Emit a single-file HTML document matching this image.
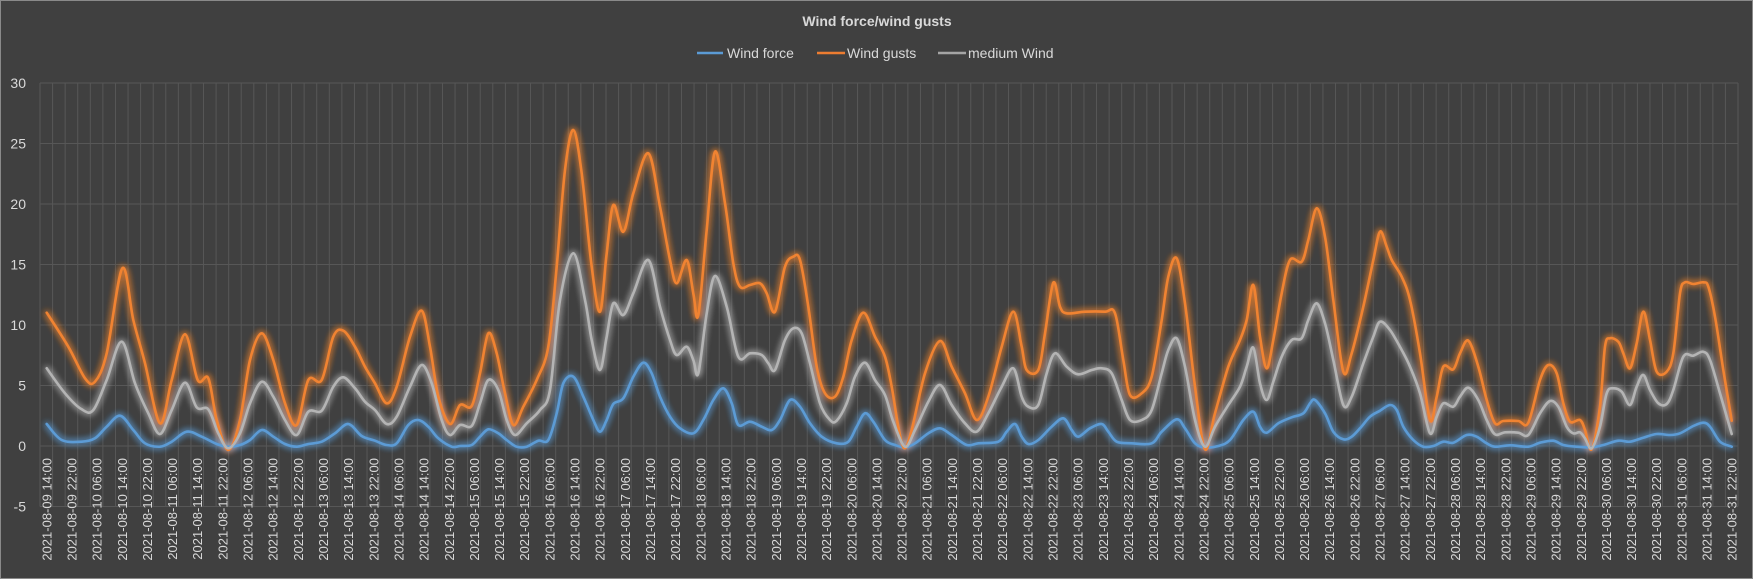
<!DOCTYPE html>
<html><head><meta charset="utf-8">
<style>
html,body{margin:0;padding:0;background:#404040;}
svg{display:block;}
text{font-family:"Liberation Sans",sans-serif;fill:#d9d9d9;}
</style></head>
<body>
<svg id="c" width="1753" height="579" xmlns="http://www.w3.org/2000/svg">
<defs>
<filter id="glow" x="-5%" y="-20%" width="110%" height="140%">
<feGaussianBlur in="SourceGraphic" stdDeviation="3.5" result="b"/>
<feMerge><feMergeNode in="b"/><feMergeNode in="b"/><feMergeNode in="SourceGraphic"/></feMerge>
</filter>
</defs>
<rect x="0.5" y="0.5" width="1752" height="578" fill="#404040" stroke="#8a8a8a"/>
<g id="grid"></g>
<g id="ylab"></g>
<g id="xlab"></g>
<text x="877" y="26" text-anchor="middle" font-size="14" font-weight="bold">Wind force/wind gusts</text>
<line x1="697" y1="53" x2="723" y2="53" stroke="#5B9BD5" stroke-width="2.5"/>
<text x="727" y="58" font-size="14">Wind force</text>
<line x1="817" y1="53" x2="845" y2="53" stroke="#ED7D31" stroke-width="2.5"/>
<text x="847" y="58" font-size="14">Wind gusts</text>
<line x1="938" y1="53" x2="966" y2="53" stroke="#A5A5A5" stroke-width="2.5"/>
<text x="968" y="58" font-size="14">medium Wind</text>
<g id="series" filter="url(#glow)"></g>
</svg>
<script>
var NS="http://www.w3.org/2000/svg";
function el(t,a,p){var e=document.createElementNS(NS,t);for(var k in a)e.setAttribute(k,a[k]);p.appendChild(e);return e;}
var L=40,R=1738,cw=(R-L)/135;
function Y(v){return 446-12.1*v;}
var g=document.getElementById('grid');
for(var k=0;k<=135;k++){var x=L+cw*k;el('line',{x1:x,y1:Y(30),x2:x,y2:Y(-5),stroke:'#575757','stroke-width':1},g);}
for(var v=-5;v<=30;v+=5){el('line',{x1:L,y1:Y(v),x2:R,y2:Y(v),stroke:'#575757','stroke-width':1},g);}
var yl=document.getElementById('ylab');
for(var v=-5;v<=30;v+=5){var t=el('text',{x:26,y:Y(v)+5,'text-anchor':'end','font-size':14},yl);t.textContent=v;}
var xl=document.getElementById('xlab');
var start=Date.UTC(2021,7,9,14);
function p2(n){return (n<10?'0':'')+n;}
for(var i=0;i<68;i++){var d=new Date(start+i*8*3600000);
var s=d.getUTCFullYear()+'-'+p2(d.getUTCMonth()+1)+'-'+p2(d.getUTCDate())+' '+p2(d.getUTCHours())+':00';
var x=L+cw*(2*i+0.5)+5;
var t=el('text',{x:0,y:0,'text-anchor':'end','font-size':13,transform:'translate('+x+',458) rotate(-90)'},xl);t.textContent=s;}
var segs=[35,460,885,1310];
var data={
o:[
[[35,578],[100,680],[150,775],[180,785],[215,700],[262,445],[295,600],[330,730],[375,910],[410,780],[450,643],[488,780],[520,775],[545,900],[580,990],[615,900],[645,720],[680,640],[715,720],[750,850],[785,915],[820,780],[860,780],[895,650],[925,632],[960,680],[990,740],[1020,790],[1055,850],[1085,800],[1125,650],[1160,572],[1185,680],[1210,830],[1245,912],[1280,852]],
[[0,855],[35,858],[60,760],[85,640],[110,700],[135,820],[160,915],[190,860],[230,780],[265,680],[290,440],[315,150],[340,30],[365,160],[395,440],[420,575],[440,400],[460,255],[490,335],[520,220],[565,100],[600,260],[630,420],[650,490],[680,420],[700,520],[715,585],[740,330],[765,95],[795,250],[820,430],[840,500],[870,495],[900,490],[920,520],[945,575],[975,440],[1000,410],[1020,420],[1045,560],[1070,740],[1095,820],[1125,830],[1150,770],[1175,660],[1210,578],[1245,650],[1275,710],[1295,820]],
[[0,700],[20,800],[40,920],[58,985],[80,930],[120,760],[165,663],[200,740],[240,820],[275,900],[310,830],[350,680],[385,575],[410,680],[425,750],[460,750],[480,640],[505,488],[525,560],[545,580],[600,575],[660,575],[690,580],[715,720],[735,825],[770,820],[800,770],[830,600],[850,470],[875,415],[900,550],[930,800],[960,988],[990,880],[1030,740],[1065,660],[1085,600],[1105,495],[1125,650],[1145,745],[1165,660],[1190,520],[1215,420],[1250,425],[1270,360],[1295,265]],
[[20,260],[45,350],[70,540],[100,755],[125,700],[160,560],[190,420],[210,335],[230,380],[245,420],[275,470],[300,540],[330,700],[360,900],[380,830],[400,740],[430,748],[450,700],[475,662],[505,740],[530,840],[555,910],[580,903],[625,903],[655,908],[690,780],[715,735],[740,760],[760,850],[780,905],[810,900],[825,930],[845,988],[870,860],[885,680],[900,655],[925,665],[940,700],[960,745],[980,670],[1000,575],[1020,660],[1040,755],[1070,755],[1090,700],[1110,520],[1125,487],[1150,492],[1180,487],[1195,500],[1215,590],[1240,750],[1265,902]]],
g:[
[[35,745],[90,820],[140,868],[175,870],[215,780],[260,665],[300,790],[340,880],[375,942],[410,870],[450,788],[485,862],[520,868],[550,940],[580,985],[615,940],[645,850],[680,785],[715,830],[750,900],[785,945],[820,875],[860,872],[895,800],[925,772],[960,805],[990,845],[1020,870],[1055,912],[1085,890],[1125,800],[1160,735],[1190,790],[1220,900],[1245,945],[1280,912]],
[[0,915],[35,918],[60,850],[85,780],[115,810],[140,900],[165,945],[200,910],[240,870],[270,810],[300,540],[340,400],[375,540],[395,660],[420,750],[440,650],[460,550],[490,585],[520,520],[565,420],[600,560],[630,660],[650,705],[680,680],[700,720],[715,760],[740,580],[765,468],[800,560],[835,710],[870,700],[905,705],[925,730],[945,750],[975,660],[1000,625],[1025,640],[1050,730],[1080,850],[1110,900],[1130,902],[1160,850],[1185,770],[1215,728],[1245,780],[1280,850],[1300,905]],
[[0,825],[30,920],[60,980],[90,930],[130,845],[165,795],[200,855],[240,910],[275,935],[310,880],[350,800],[385,745],[410,830],[430,860],[460,855],[485,760],[510,700],[545,740],[580,763],[620,750],[650,745],[680,760],[710,840],[735,900],[770,900],[800,870],[830,760],[850,690],[875,655],[900,740],[930,900],[960,980],[990,920],[1030,855],[1065,800],[1085,740],[1105,683],[1125,790],[1145,840],[1165,785],[1190,710],[1220,660],[1250,655],[1270,600],[1295,550]],
[[20,550],[45,610],[70,720],[100,855],[125,830],[160,730],[190,650],[210,605],[240,630],[275,690],[300,740],[330,820],[360,940],[380,890],[400,850],[430,860],[450,830],[475,803],[505,840],[530,900],[555,943],[585,937],[625,938],[655,945],[690,880],[720,843],[745,860],[770,920],[790,940],[810,937],[825,955],[845,985],[870,920],[890,820],[910,805],[935,815],[960,855],[980,800],[1000,765],[1020,810],[1045,850],[1070,852],[1090,810],[1120,710],[1150,707],[1180,695],[1200,720],[1230,820],[1265,942]]],
b:[
[[35,912],[80,960],[140,965],[180,955],[215,920],[255,887],[295,930],[330,970],[375,980],[410,965],[455,935],[500,950],[545,972],[580,980],[615,975],[645,960],[680,930],[715,950],[750,972],[785,980],[820,972],[860,965],[900,940],[940,912],[980,948],[1020,962],[1055,975],[1085,970],[1120,915],[1150,900],[1180,920],[1210,955],[1250,980]],
[[0,978],[35,975],[60,950],[85,928],[115,940],[140,960],[170,980],[200,980],[235,962],[265,960],[290,880],[310,790],[340,770],[370,830],[400,900],[420,935],[440,900],[460,852],[490,835],[520,770],[550,728],[575,760],[600,830],[630,890],[660,925],[700,940],[730,900],[760,840],[790,805],[815,850],[835,915],[870,905],[905,920],[935,930],[960,900],[990,840],[1020,860],[1050,910],[1085,950],[1130,970],[1165,965],[1190,920],[1215,880],[1240,905],[1280,965]],
[[0,960],[30,975],[60,982],[90,970],[130,940],[165,925],[200,945],[245,975],[280,970],[340,965],[365,935],[390,912],[410,950],[430,972],[460,960],[500,920],[535,895],[560,930],[580,950],[615,925],[650,912],[670,935],[695,965],[740,970],[800,970],[830,935],[875,898],[900,925],[930,970],[960,982],[1000,978],[1035,960],[1075,900],[1105,875],[1125,920],[1145,938],[1180,910],[1220,892],[1255,880],[1290,840]],
[[0,850],[20,840],[45,880],[70,935],[100,958],[125,950],[150,925],[180,890],[210,872],[240,855],[260,870],[280,920],[310,960],[340,980],[370,978],[400,965],[430,968],[470,945],[500,950],[530,970],[555,980],[600,976],[655,980],[690,968],[730,962],[760,975],[800,980],[845,982],[880,975],[925,962],[960,965],[1000,953],[1040,942],[1080,945],[1110,940],[1150,918],[1180,908],[1200,920],[1230,965],[1265,980]]]
};
function pts(arr){var out=[];for(var s=0;s<4;s++){arr[s].forEach(function(p){out.push([p[0]/3+segs[s],p[1]/3+120]);});}
out.sort(function(a,b){return a[0]-b[0];});
var f=[];out.forEach(function(p){if(!f.length||p[0]-f[f.length-1][0]>2)f.push(p);});return f;}
function path(P){var d='M'+P[0][0].toFixed(1)+','+P[0][1].toFixed(1);
for(var i=0;i<P.length-1;i++){var p0=P[i-1]||P[i],p1=P[i],p2=P[i+1],p3=P[i+2]||P[i+1];
var c1x=p1[0]+(p2[0]-p0[0])/6,c1y=p1[1]+(p2[1]-p0[1])/6,c2x=p2[0]-(p3[0]-p1[0])/6,c2y=p2[1]-(p3[1]-p1[1])/6;
d+=' C'+c1x.toFixed(1)+','+c1y.toFixed(1)+' '+c2x.toFixed(1)+','+c2y.toFixed(1)+' '+p2[0].toFixed(1)+','+p2[1].toFixed(1);}
return d;}
var sg=document.getElementById('series');
[['b','#5B9BD5'],['o','#F08330'],['g','#B4B4B4']].forEach(function(s){
el('path',{d:path(pts(data[s[0]])),fill:'none',stroke:s[1],'stroke-width':2.6,'stroke-linejoin':'round','stroke-linecap':'round'},sg);});
</script>
</body></html>
